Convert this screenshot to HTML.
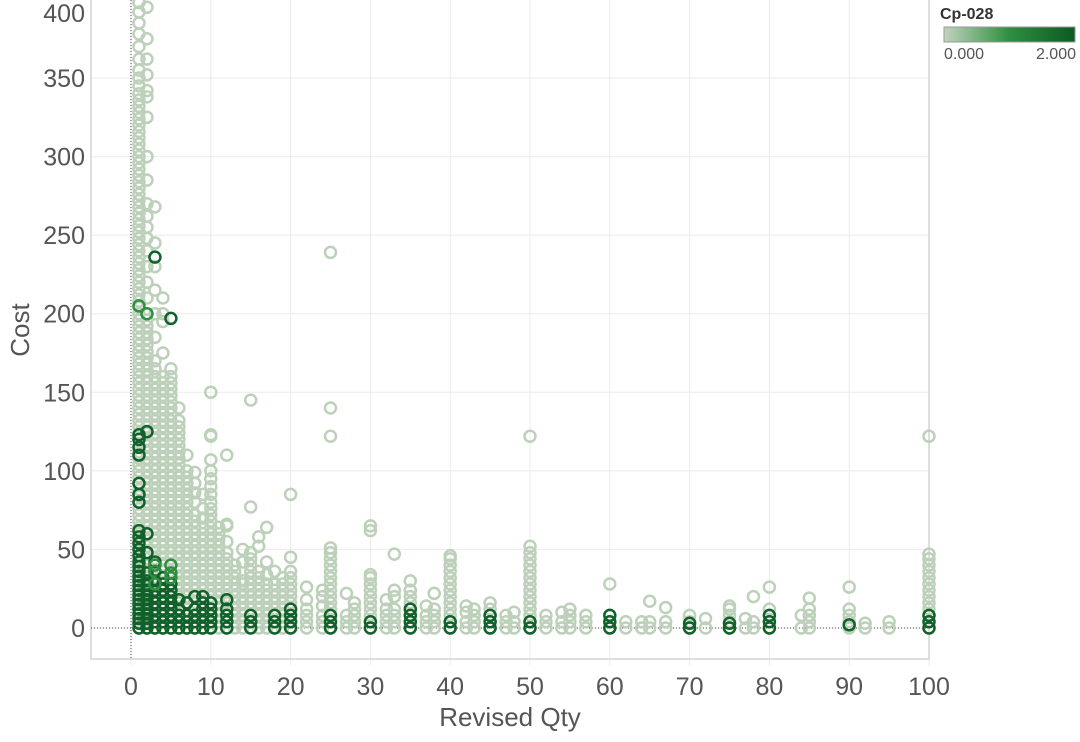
<!DOCTYPE html>
<html><head><meta charset="utf-8"><style>
body{margin:0;background:#fff;width:1080px;height:737px;overflow:hidden;font-family:"Liberation Sans",sans-serif}
svg text{font-family:"Liberation Sans",sans-serif}
</style></head><body>
<svg id="chart" width="1080" height="737" xmlns="http://www.w3.org/2000/svg">
<g id="grid"></g>
<g id="axes"></g>
<g id="pts"></g>
<text transform="translate(29,330) rotate(-90)" text-anchor="middle" font-size="26" fill="#555">Cost</text>
<text x="510" y="726" text-anchor="middle" font-size="26" fill="#555">Revised Qty</text>
<g>
<defs><linearGradient id="lg" x1="0" x2="1"><stop offset="0" stop-color="#c0d3bd"/><stop offset="0.5" stop-color="#2e8f40"/><stop offset="1" stop-color="#0b5a23"/></linearGradient></defs>
<text x="940" y="19" font-size="16" font-weight="bold" fill="#333">Cp-028</text>
<rect x="944" y="27" width="131" height="15" fill="url(#lg)" stroke="#999" stroke-width="1"/>
<text x="944" y="59" font-size="16" fill="#555">0.000</text>
<text x="1076" y="59" font-size="16" fill="#555" text-anchor="end">2.000</text>
</g>
</svg>
<script>
const xTicks=[0,10,20,30,40,50,60,70,80,90,100];
const yTicks=[0,50,100,150,200,250,300,350,400];
// each group: quantity, cp-028 value, list of costs
const groupQty=[1,2,3,4,5,6,7,8,9,10,11,12,13,14,15,16,17,18,19,20,22,24,25,27,28,30,32,33,35,37,38,40,42,43,45,47,48,50,52,54,55,57,60,62,64,65,67,70,72,75,77,78,80,84,85,90,92,95,100,
 1,1,2,3,3,4,5,5,6,7,8,9,10,12,15,18,20,25,30,35,40,45,50,60,70,75,80,90,100, 3,2,5];
const groupCp=[0.2,0.2,0.2,0.2,0.2,0.2,0.2,0.2,0.2,0.2,0.2,0.2,0.2,0.2,0.2,0.2,0.2,0.2,0.2,0.2,0.2,0.2,0.2,0.2,0.2,0.2,0.2,0.2,0.2,0.2,0.2,0.2,0.2,0.2,0.2,0.2,0.2,0.2,0.2,0.2,0.2,0.2,0.2,0.2,0.2,0.2,0.2,0.2,0.2,0.2,0.2,0.2,0.2,0.2,0.2,0.2,0.2,0.2,0.2,
 2,1.6,2,2,1.6,2,2,1.5,2,2,2,2,2,2,2,2,2,2,2,2,2,2,2,2,2,2,2,2,2, 1.7,1.7,1.7];
const groupCosts=[
"0 4 8 12 16 20 24 28 32 36 40 44 48 52 56 60 64 68 72 76 80 84 88 92 96 100 104 108 112 116 120 124 128 132 136 140 144 148 152 156 160 164 168 172 176 180 184 188 192 196 200 204 208 212 216 220 224 228 232 236 240 244 248 252 256 260 264 268 272 276 280 284 288 292 296 300 304 308 312 316 320 324 328 332 336 340 345 350 355 362 370 378 385 392 398 404",
"0 4 8 12 16 20 24 28 32 36 40 44 48 52 56 60 64 68 72 76 80 84 88 92 96 100 104 108 112 116 120 124 128 132 136 140 144 148 152 156 160 164 168 172 176 180 184 188 192 196 200 210 220 230 240 248 255 262 270 285 300 325 338 342 352 362 375 395",
"0 4 8 12 16 20 24 28 32 36 40 44 48 52 56 60 64 68 72 76 80 84 88 92 96 100 104 108 112 116 120 124 128 132 136 140 144 148 152 156 160 165 170 185 200 215 230 245 268",
"0 4 8 12 16 20 24 28 32 36 40 44 48 52 56 60 64 68 72 76 80 84 88 92 96 100 104 108 112 116 120 124 128 132 136 140 144 148 152 156 160 175 195 200 210",
"0 4 8 12 16 20 24 28 32 36 40 44 48 52 56 60 64 68 72 76 80 84 88 92 96 100 104 108 112 116 120 124 128 132 136 140 144 148 152 156 160 165",
"0 4 8 12 16 20 24 28 32 36 40 44 48 52 56 60 64 68 72 76 80 84 88 92 96 100 104 108 112 116 120 124 128 132 140",
"0 4 8 12 16 20 24 28 32 36 40 44 48 52 56 60 64 68 72 76 80 84 88 92 96 100 110",
"0 4 8 12 16 20 24 28 32 36 40 44 48 52 56 60 64 68 72 80 86 92 99",
"0 4 8 12 16 20 24 28 32 36 40 44 48 52 56 60 64 70 76 85",
"0 4 8 12 16 20 24 28 32 36 40 44 48 52 56 60 64 68 72 76 80 85 90 95 100 107 122 123 150",
"0 4 8 12 16 20 24 28 32 36 40 44 48 52 56 60 64",
"0 4 8 12 16 20 24 28 32 36 40 44 48 55 65 66 110",
"0 4 8 12 16 20 24 28 32 36 40",
"0 4 8 12 16 20 24 28 30 42 50",
"0 4 8 12 16 20 24 28 32 36 40 44 48 77 145",
"0 4 8 12 16 20 24 28 32 36 52 58",
"0 4 8 12 16 20 24 28 34 42 64",
"0 4 8 12 16 20 24 28 36",
"0 4 8 12 16 20 24 28 32",
"0 4 8 12 16 20 24 28 32 36 45 85",
"0 4 8 12 18 26",
"0 4 8 14 20 24",
"0 4 8 12 16 20 24 28 32 36 40 44 48 51 122 140 239",
"0 4 8 22",
"0 4 8 12 16",
"0 4 8 12 16 20 24 28 32 34 62 65",
"0 4 8 12 18",
"0 4 8 12 20 24 47",
"0 4 8 12 16 20 24 30",
"0 4 8 14",
"0 4 8 12 22",
"0 4 8 12 16 20 24 28 32 36 40 44 46",
"0 4 10 14",
"0 4 8 12",
"0 4 8 12 16",
"0 4 8",
"0 4 10",
"0 4 8 12 16 20 24 28 32 36 40 44 48 52 122",
"0 4 8",
"0 4 10",
"0 4 8 12",
"0 4 8",
"0 4 8 28",
"0 4",
"0 4",
"0 4 17",
"0 4 13",
"0 4 8",
"0 6",
"0 4 8 12 14",
"0 6",
"0 4 20",
"0 4 8 12 26",
"0 8",
"0 4 8 12 19",
"0 4 8 12 26",
"0 3",
"0 4",
"0 4 8 12 16 20 24 28 32 36 40 44 47 122",
"0 3 6 9 12 15 18 21 24 27 30 33 36 39 42 46 50 54 58 62 80 85 92 110 115 120 123",
"205",
"0 3 6 9 12 15 18 21 24 27 30 35 48 60 125",
"0 4 8 12 16 20 24 30 36 42 236",
"36 40",
"0 4 8 12 16 20 24 28 32",
"0 4 8 12 16 20 24 28 197",
"35 40",
"0 4 8 12 18",
"0 4 8 16",
"0 4 8 12 20",
"0 4 8 12 16 20",
"0 4 8 12 16",
"0 4 8 12 18",
"0 4 8",
"0 4 8",
"0 4 8 12",
"0 4 8",
"0 4",
"0 4 8 12",
"0 4",
"0 4 8",
"0 4",
"0 4 8",
"0 3",
"0 3",
"0 4 8",
"2",
"0 4 8",
"28",
"200",
"32"];

const X=v=>131+v*7.98, Y=v=>628-v*1.5714;
const NS="http://www.w3.org/2000/svg";
function mk(tag,attrs,parent){const e=document.createElementNS(NS,tag);for(const k in attrs)e.setAttribute(k,attrs[k]);parent.appendChild(e);return e;}
const grid=document.getElementById('grid'),axes=document.getElementById('axes'),pts=document.getElementById('pts');
yTicks.forEach(t=>{
  const l=mk('line',{x1:91,x2:929,y1:Y(t),y2:Y(t),stroke:'#ebebeb','stroke-width':1},grid);
  
  
  const tx=mk('text',{x:85,y:Math.max(Y(t)+9,22),'text-anchor':'end','font-size':25,fill:'#555'},axes);
  tx.textContent=t;
  
  
});
xTicks.forEach(t=>{
  const l=mk('line',{x1:X(t),x2:X(t),y1:0,y2:665,stroke:'#ebebeb','stroke-width':1},grid);
  
  
  const tx=mk('text',{x:X(t),y:695,'text-anchor':'middle','font-size':25,fill:'#555'},axes);
  tx.textContent=t;
  
  
});
const fr=mk('path',{d:'M91 0 V659 H929 V0',fill:'none',stroke:'#d4d4d4','stroke-width':1.5},axes);


const z1=mk('line',{x1:91,x2:929,y1:Y(0),y2:Y(0),stroke:'#444','stroke-dasharray':'1,2'},axes);


const z2=mk('line',{x1:X(0),x2:X(0),y1:0,y2:659,stroke:'#444','stroke-dasharray':'1,2'},axes);


function col(cp){
  if(cp<=0.3)return '#bdd1ba';
  if(cp<1.8)return '#2f8f40';
  return '#11622a';
}
groupQty.forEach((q,i)=>{
  groupCosts[i].split(' ').forEach(s=>{
    const v=+s;
    const c=mk('circle',{cx:X(q),cy:Y(v),r:5.5,fill:'none',stroke:col(groupCp[i]),'stroke-width':2.5},pts);
    
    
  });
});
</script>
</body></html>
